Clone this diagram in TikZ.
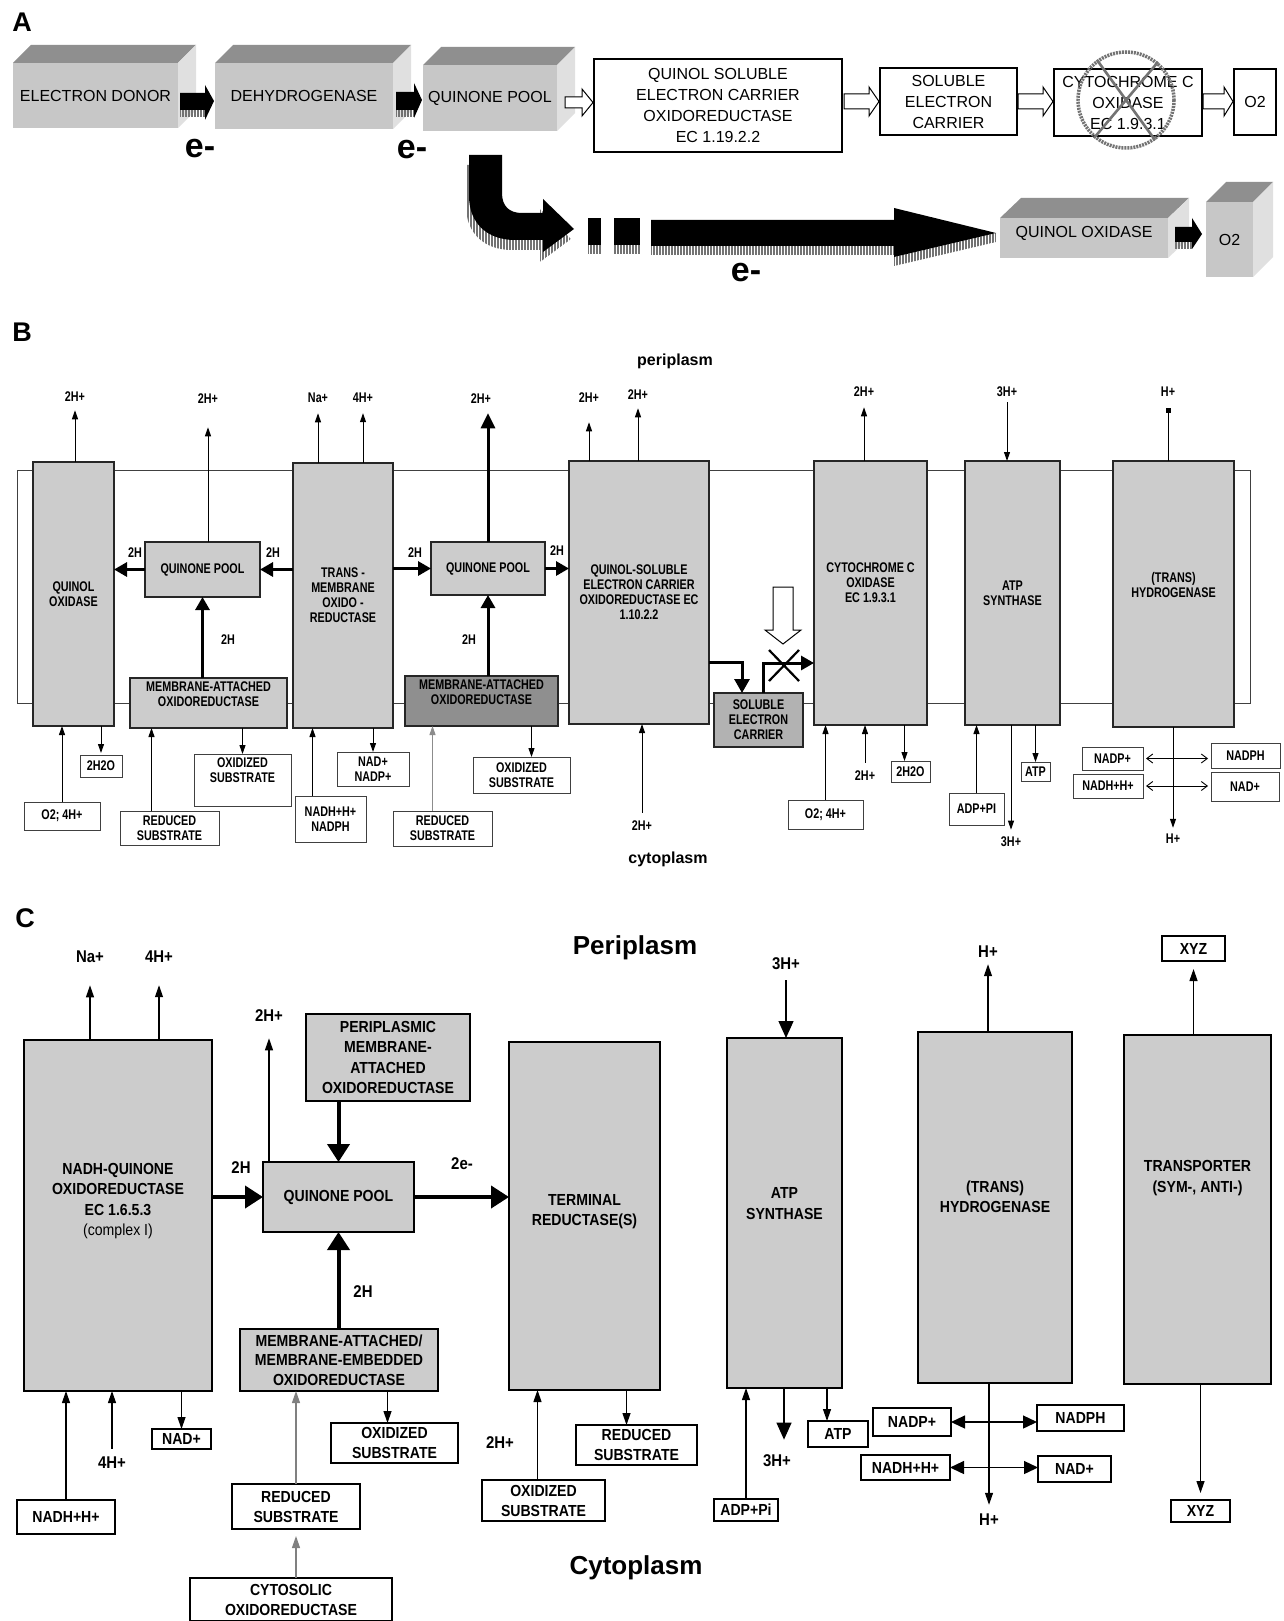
\documentclass[tikz,border=0pt]{standalone}
\usepackage{fontspec}
\setmainfont{Liberation Sans}
\newfontfamily\condfont{Liberation Sans}[FakeStretch=0.77]
\newfontfamily\semifont{Liberation Sans}[FakeStretch=0.88]
\usetikzlibrary{arrows.meta,patterns.meta}

\definecolor{cubefront}{gray}{0.78}
\definecolor{cubetop}{gray}{0.56}
\definecolor{cubeside}{gray}{0.88}
\definecolor{boxgray}{gray}{0.80}
\definecolor{attachdark}{gray}{0.56}
\definecolor{carriergray}{gray}{0.70}
\definecolor{hatchgray}{gray}{0.45}

\tikzset{every picture/.style={line width=0.75pt}}
\tikzset{
  cube/.style={fill=cubefront, inner sep=0pt, outer sep=0pt, font=\fontsize{16}{20}\selectfont},
  abox/.style={draw, line width=2.6pt, fill=white, inner sep=0pt, outer sep=0pt, align=center, font=\fontsize{16}{21}\selectfont},
  hollow/.style={draw, line width=1pt, fill=white},
  hatchfill/.style={pattern={Lines[angle=90,distance=3pt,line width=1.4pt]}, pattern color=hatchgray},
  bbox/.style={draw=black!85, line width=1.6pt, fill=boxgray, inner sep=0pt, outer sep=0pt, align=center, font=\condfont\bfseries\fontsize{14}{15}\selectfont},
  blabel/.style={draw=black!75, line width=0.9pt, fill=white, inner sep=0pt, outer sep=0pt, align=center, font=\condfont\bfseries\fontsize{14}{15}\selectfont},
  btext/.style={inner sep=0pt, font=\condfont\bfseries\fontsize{14}{15}\selectfont},
  bthin/.style={line width=1pt, -{Triangle[length=9pt,width=6pt]}},
  bthick/.style={line width=3pt, -{Triangle[length=13pt,width=14pt]}},
  bboth/.style={line width=0.9pt, {Straight Barb[length=6pt,width=9pt]}-{Straight Barb[length=6pt,width=9pt]}, shorten <=3pt, shorten >=3pt},
  cbox/.style={draw, line width=2.4pt, fill=boxgray, inner sep=0pt, outer sep=0pt, align=center, font=\semifont\bfseries\fontsize{16}{20.5}\selectfont},
  clabel/.style={draw, line width=1.2pt, fill=white, inner sep=0pt, outer sep=0pt, align=center, font=\semifont\bfseries\fontsize{16}{20}\selectfont},
  ctext/.style={inner sep=0pt, font=\semifont\bfseries\fontsize{17}{20}\selectfont},
  cthin/.style={line width=1.2pt, -{Triangle[length=12pt,width=8pt]}},
  cmid/.style={line width=1.3pt, -{Triangle[length=17pt,width=15pt]}},
  cthick/.style={line width=4pt, -{Triangle[length=18pt,width=22pt]}},
  cboth/.style={line width=1.3pt, {Triangle[length=14pt,width=13pt]}-{Triangle[length=14pt,width=13pt]}},
  panel/.style={inner sep=0pt, font=\bfseries\fontsize{27}{30}\selectfont},
  sidename/.style={inner sep=0pt, font=\bfseries\fontsize{26}{30}\selectfont},
  elabel/.style={inner sep=0pt, font=\bfseries\fontsize{34}{36}\selectfont},
}

\begin{document}
\begin{tikzpicture}[x=1pt,y=1pt,yscale=-1]
\useasboundingbox (0,0) rectangle (1283,1621);
\fill[white] (0,0) rectangle (1283,1621);

%%%%%%%%%%%%%%%% A %%%%%%%%%%%%%%%%
\node[panel] (lbla) at (22,22) {A};

%Shape: Cube
\node[cube, minimum width=165pt, minimum height=65pt] (aed) at (95.5,95.5) {ELECTRON DONOR};
\fill[cubetop] (aed.north west) -- ++(18,-18) -- ++(165,0) -- (aed.north east) -- cycle;
\fill[cubeside] (aed.north east) -- ++(18,-18) -- ++(0,65) -- (aed.south east) -- cycle;
%Shape: Cube
\node[cube, minimum width=178pt, minimum height=66pt] (adh) at (304,96) {DEHYDROGENASE};
\fill[cubetop] (adh.north west) -- ++(18,-18) -- ++(178,0) -- (adh.north east) -- cycle;
\fill[cubeside] (adh.north east) -- ++(18,-18) -- ++(0,66) -- (adh.south east) -- cycle;
%Shape: Cube
\node[cube, minimum width=134pt, minimum height=66pt] (aqp) at (490,98) {QUINONE POOL};
\fill[cubetop] (aqp.north west) -- ++(18,-18) -- ++(134,0) -- (aqp.north east) -- cycle;
\fill[cubeside] (aqp.north east) -- ++(18,-18) -- ++(0,66) -- (aqp.south east) -- cycle;

%Shape: Right Arrow
\fill[hatchfill] (180,110) rectangle (205,117);
\fill (180,93) -- (205,93) -- (205,85) -- (214,101) -- (205,120) -- (205,110) -- (180,110) -- cycle;
\fill[hatchfill] (396,110) rectangle (414,117);
\fill (396,92) -- (414,92) -- (414,83) -- (422,100) -- (414,118) -- (414,110) -- (396,110) -- cycle;

%Shape: Rectangle
\node[abox, minimum width=248pt, minimum height=93pt] (aqs) at (718,105.5) {QUINOL SOLUBLE\\ELECTRON CARRIER\\OXIDOREDUCTASE\\EC 1.19.2.2};
\node[abox, minimum width=137pt, minimum height=67pt] (asec) at (948.5,101.5) {SOLUBLE\\ELECTRON\\CARRIER};
\node[abox, minimum width=148pt, minimum height=67pt] (acco) at (1128,102.5) {CYTOCHROME C\\OXIDASE\\EC 1.9.3.1};
\node[abox, minimum width=42pt, minimum height=66pt] (ao2) at (1255,102) {O2};

%Shape: Right Arrow (hollow)
\draw[hollow] (565,97) -- (582,97) -- (582,89) -- (593,102.5) -- (582,116) -- (582,108) -- (565,108) -- cycle;
\draw[hollow] (844,94) -- (869,94) -- (869,87) -- (879,101.5) -- (869,116) -- (869,109) -- (844,109) -- cycle;
\draw[hollow] (1018,94) -- (1043,94) -- (1043,87) -- (1053,101.5) -- (1043,116) -- (1043,109) -- (1018,109) -- cycle;
\draw[hollow] (1203,94) -- (1224,94) -- (1224,87) -- (1233,101.5) -- (1224,116) -- (1224,109) -- (1203,109) -- cycle;

%crossed out
\draw[black!55, line width=3.5pt, dash pattern=on 2pt off 1pt] (1126,100) circle[radius=48pt];
\draw[black!55, line width=2.6pt] (1097,60) -- (1155,140) (1158,62) -- (1094,138);

\node[elabel] (ae1) at (200,149) {e-};
\node[elabel] (ae2) at (412,150) {e-};

%Shape: Curved Arrow
\begin{scope}[shift={(-3,10)}]
\fill[hatchfill] (469,155) -- (502,155) -- (502,193) .. controls (502,206) and (509,213) .. (522,213) -- (543,213) -- (543,199) -- (574,229) -- (543,252) -- (543,240) -- (515,240) .. controls (487,240) and (469,223) .. (469,196) -- cycle;
\end{scope}
\fill (469,155) -- (502,155) -- (502,193) .. controls (502,206) and (509,213) .. (522,213) -- (543,213) -- (543,199) -- (574,229) -- (543,252) -- (543,240) -- (515,240) .. controls (487,240) and (469,223) .. (469,196) -- cycle;

%Shape: Right Arrow (dashed start)
\fill[hatchfill] (588,245) rectangle (601,254);
\fill[hatchfill] (614,245) rectangle (640,254);
\fill (588,218) rectangle (601,245);
\fill (614,218) rectangle (640,245);
\fill[hatchfill] (651,246) -- (894,246) -- (894,266) -- (996,242) -- (996,233) -- (894,257) -- (894,255) -- (651,255) -- cycle;
\fill (651,220) -- (894,220) -- (894,208) -- (996,233) -- (894,257) -- (894,246) -- (651,246) -- cycle;
\node[elabel] (ae3) at (746,273) {e-};

%Shape: Cube
\node[cube, minimum width=168pt, minimum height=40pt, text depth=12pt] (aqo) at (1084,238) {QUINOL OXIDASE};
\fill[cubetop] (aqo.north west) -- ++(21,-20) -- ++(168,0) -- (aqo.north east) -- cycle;
\fill[cubeside] (aqo.north east) -- ++(21,-20) -- ++(0,40) -- (aqo.south east) -- cycle;
%Shape: Cube
\node[cube, minimum width=47pt, minimum height=75pt] (ao2c) at (1229.5,239.5) {O2};
\fill[cubetop] (ao2c.north west) -- ++(20,-20) -- ++(47,0) -- (ao2c.north east) -- cycle;
\fill[cubeside] (ao2c.north east) -- ++(20,-20) -- ++(0,75) -- (ao2c.south east) -- cycle;

\fill[hatchfill] (1175,242) rectangle (1192,249);
\fill (1175,227) -- (1192,227) -- (1192,218) -- (1202,234) -- (1192,249) -- (1192,242) -- (1175,242) -- cycle;

%%%%%%%%%%%%%%%% B %%%%%%%%%%%%%%%%
\node[panel] (lblb) at (22,332) {B};
\node[inner sep=0pt, font=\bfseries\fontsize{16}{18}\selectfont] (bper) at (675,361) {periplasm};
\node[inner sep=0pt, font=\bfseries\fontsize{16}{18}\selectfont] (bcyt) at (668,859) {cytoplasm};

%membrane
\draw[black!75, line width=1pt] (17,470) rectangle (1250,703);

%Shape: Rectangle
\node[bbox, minimum width=81pt, minimum height=264pt] (bqo) at (73.5,594) {QUINOL\\OXIDASE};
\node[bbox, minimum width=115pt, minimum height=55pt] (bqp1) at (202.5,569.5) {QUINONE POOL};
\node[bbox, minimum width=100pt, minimum height=265pt] (btm) at (343,595.5) {TRANS -\\MEMBRANE\\OXIDO -\\REDUCTASE};
\node[bbox, minimum width=157pt, minimum height=50pt, text depth=17pt] (bma1) at (208.5,703) {MEMBRANE-ATTACHED\\OXIDOREDUCTASE};
\node[bbox, minimum width=114pt, minimum height=53pt] (bqp2) at (488,568.5) {QUINONE POOL};
\node[bbox, fill=attachdark, minimum width=153pt, minimum height=50pt, text depth=17pt] (bma2) at (481.5,701) {MEMBRANE-ATTACHED\\OXIDOREDUCTASE};
\node[bbox, minimum width=140pt, minimum height=263pt] (bqs) at (639,592.5) {QUINOL-SOLUBLE\\ELECTRON CARRIER\\OXIDOREDUCTASE EC\\1.10.2.2};
\node[bbox, fill=carriergray, minimum width=89pt, minimum height=54pt] (bsec) at (758.5,720) {SOLUBLE\\ELECTRON\\CARRIER};
\node[bbox, minimum width=113pt, minimum height=264pt, text depth=20pt] (bcco) at (870.5,593) {CYTOCHROME C\\OXIDASE\\EC 1.9.3.1};
\node[bbox, minimum width=95pt, minimum height=264pt] (batp) at (1012.5,593) {ATP\\SYNTHASE};
\node[bbox, minimum width=121pt, minimum height=266pt, text depth=18pt] (bth) at (1173.5,594) {(TRANS)\\HYDROGENASE};

% Text Node
\node[btext] (bt1) at (75,397) {2H+};
\node[btext] (bt2) at (208,399) {2H+};
\node[btext] (bt3) at (318,398) {Na+};
\node[btext] (bt4) at (363,398) {4H+};
\node[btext] (bt5) at (481,399) {2H+};
\node[btext] (bt6) at (589,398) {2H+};
\node[btext] (bt7) at (638,395) {2H+};
\node[btext] (bt8) at (864,392) {2H+};
\node[btext] (bt9) at (1007,392) {3H+};
\node[btext] (bt10) at (1168,392) {H+};

%Straight Lines
\draw[bthin, shorten >=8pt] (bqo.north -| bt1.south) -- (bt1.south);
\draw[bthin, shorten >=23pt] (bqp1.north -| bt2.south) -- (bt2.south);
\draw[bthin, shorten >=10pt] (btm.north -| bt3.south) -- (bt3.south);
\draw[bthin, shorten >=10pt] (btm.north -| bt4.south) -- (bt4.south);
\draw[bthick, -{Triangle[length=15pt,width=14pt]}, shorten >=9pt] (bqp2.north) -- (bqp2.north |- bt5.south);
\draw[bthin, shorten >=19pt] (bqs.north -| bt6.south) -- (bt6.south);
\draw[bthin, shorten >=8pt] (bqs.north -| bt7.south) -- (bt7.south);
\draw[bthin, shorten >=10pt] (bcco.north -| bt8.south) -- (bt8.south);
\draw[bthin, shorten <=5pt] (bt9.south) -- (bt9.south |- batp.north);
\draw[line width=1pt, -{Square[length=5pt,width=5pt]}, shorten >=11pt] (bth.north -| bt10.south) -- (bt10.south);

\draw[bthick] (bqp1.east -| btm.west) -- (bqp1.east);
\draw[bthick] (bqp1.west) -- (bqp1.west -| bqo.east);
\draw[bthick] (bqp2.west -| btm.east) -- (bqp2.west);
\draw[bthick] (bqp2.east) -- (bqp2.east -| bqs.west);
\draw[bthick] (bqp1.south |- bma1.north) -- (bqp1.south);
\draw[bthick] (bqp2.south |- bma2.north) -- (bqp2.south);
\node[btext] (b2ha) at (273,553) {2H};
\node[btext] (b2hb) at (135,553) {2H};
\node[btext] (b2hc) at (415,553) {2H};
\node[btext] (b2hd) at (557,551) {2H};
\node[btext] (b2he) at (228,640) {2H};
\node[btext] (b2hf) at (469,640) {2H};

\coordinate (bk1) at (742,662);
\draw[bthick, -{Triangle[length=14pt,width=15pt]}] (bk1 -| bqs.east) -- (bk1) -- (bk1 |- bsec.north);
\coordinate (bk2) at (763,663);
\draw[bthick] (bk2 |- bsec.north) -- (bk2) -- (bk2 -| bcco.west);
\coordinate (bx) at (784,665);
\draw[line width=2.2pt] (bx) ++(-15,-15) -- ++(30,31) (bx) ++(-15,16) -- ++(30,-31);
\coordinate (bdn) at (783,644);
\draw[hollow] (bdn) -- ++(-18,-14) -- ++(8,0) -- ++(0,-43) -- ++(20,0) -- ++(0,43) -- ++(8,0) -- cycle;

%bottom side B
\node[blabel, minimum width=76pt, minimum height=28pt] (bo2a) at (62,816) {O2; 4H+};
\draw[bthin] (bo2a.north) -- (bo2a.north |- bqo.south);
\node[blabel, minimum width=42pt, minimum height=22pt] (bh2oa) at (101,766) {2H2O};
\draw[bthin, shorten >=2pt] (bh2oa.north |- bqo.south) -- (bh2oa.north);
\node[blabel, minimum width=99pt, minimum height=34pt] (brs1) at (169.5,828) {REDUCED\\SUBSTRATE};
\coordinate (brs1a) at ([xshift=-18pt]brs1.north);
\draw[bthin] (brs1a) -- (brs1a |- bma1.south);
\node[blabel, minimum width=97pt, minimum height=52pt, text depth=20pt] (bos1) at (242.5,780) {OXIDIZED\\SUBSTRATE};
\draw[bthin] (bos1.north |- bma1.south) -- (bos1.north);
\node[blabel, minimum width=71pt, minimum height=46pt] (bnadh) at (330.5,819) {NADH+H+\\NADPH};
\coordinate (bnadha) at ([xshift=-18pt]bnadh.north);
\draw[bthin] (bnadha) -- (bnadha |- btm.south);
\node[blabel, minimum width=72pt, minimum height=34pt] (bnad) at (373,769) {NAD+\\NADP+};
\draw[bthin] (bnad.north |- btm.south) -- (bnad.north);
\node[blabel, minimum width=99pt, minimum height=35pt] (brs2) at (442.5,828.5) {REDUCED\\SUBSTRATE};
\coordinate (brs2a) at ([xshift=-10pt]brs2.north);
\draw[bthin, black!45] (brs2a) -- (brs2a |- bma2.south);
\node[blabel, minimum width=97pt, minimum height=36pt] (bos2) at (521.5,775) {OXIDIZED\\SUBSTRATE};
\coordinate (bos2a) at ([xshift=10pt]bos2.north);
\draw[bthin] (bos2a |- bma2.south) -- (bos2a);
\node[btext] (bb1) at (642,826) {2H+};
\draw[bthin, shorten <=8pt] (bb1.north) -- (bb1.north |- bqs.south);
\node[blabel, minimum width=75pt, minimum height=29pt] (bo2b) at (825.5,814.5) {O2; 4H+};
\draw[bthin] (bo2b.north) -- (bo2b.north |- bcco.south);
\node[btext] (bb2) at (865,776) {2H+};
\draw[bthin, shorten <=8pt] (bb2.north) -- (bb2.north |- bcco.south);
\node[blabel, minimum width=39pt, minimum height=21pt] (bh2ob) at (910.5,771.5) {2H2O};
\coordinate (bh2oba) at ([xshift=-6pt]bh2ob.north);
\draw[bthin] (bh2oba |- bcco.south) -- (bh2oba);
\node[blabel, minimum width=55pt, minimum height=32pt] (badp) at (976.5,809) {ADP+PI};
\draw[bthin] (badp.north) -- (badp.north |- batp.south);
\node[btext] (bb3) at (1011,842) {3H+};
\draw[bthin, shorten >=7pt] (bb3.north |- batp.south) -- (bb3.north);
\node[blabel, minimum width=29pt, minimum height=19pt] (batpl) at (1035.5,771.5) {ATP};
\draw[bthin] (batpl.north |- batp.south) -- (batpl.north);
\node[btext] (bb4) at (1173,839) {H+};
\draw[bthin, shorten >=6pt] (bb4.north |- bth.south) -- (bb4.north);
\node[blabel, minimum width=61pt, minimum height=23pt] (bnadp) at (1112.5,758.5) {NADP+};
\node[blabel, minimum width=69pt, minimum height=25pt] (bnadph) at (1245.5,755.5) {NADPH};
\node[blabel, minimum width=70pt, minimum height=24pt] (bnadhh) at (1108,786) {NADH+H+};
\node[blabel, minimum width=68pt, minimum height=29pt] (bnadp2) at (1245,786.5) {NAD+};
\draw[bboth] (bnadp.east) -- (bnadp.east -| bnadph.west);
\draw[bboth] (bnadhh.east) -- (bnadhh.east -| bnadp2.west);

%%%%%%%%%%%%%%%% C %%%%%%%%%%%%%%%%
\node[panel] (lblc) at (25,918) {C};
\node[sidename] (cper) at (635,948) {Periplasm};
\node[sidename] (ccyto) at (636,1568) {Cytoplasm};

%Shape: Rectangle
\node[cbox, minimum width=188pt, minimum height=351pt, text depth=32pt] (cnq) at (118,1215.5) {NADH-QUINONE\\OXIDOREDUCTASE\\EC 1.6.5.3\\{\mdseries (complex I)}};
\node[cbox, minimum width=164pt, minimum height=87pt] (cpm) at (388,1057.5) {PERIPLASMIC\\MEMBRANE-\\ATTACHED\\OXIDOREDUCTASE};
\node[cbox, minimum width=151pt, minimum height=70pt] (cqp) at (338.5,1197) {QUINONE POOL};
\node[cbox, minimum width=198pt, minimum height=62pt, font=\semifont\bfseries\fontsize{16}{19.5}\selectfont] (cma) at (339,1360) {MEMBRANE-ATTACHED/\\MEMBRANE-EMBEDDED\\OXIDOREDUCTASE};
\node[cbox, minimum width=151pt, minimum height=348pt, text depth=12pt] (ctr) at (584.5,1216) {TERMINAL\\REDUCTASE(S)};
\node[cbox, minimum width=115pt, minimum height=350pt, text depth=19pt] (catp) at (784.5,1213) {ATP\\SYNTHASE};
\node[cbox, minimum width=154pt, minimum height=351pt, text depth=22pt] (cth) at (995,1207.5) {(TRANS)\\HYDROGENASE};
\node[cbox, minimum width=147pt, minimum height=349pt, text depth=66pt] (ctp) at (1197.5,1209.5) {TRANSPORTER\\(SYM-, ANTI-)};

% Text Node
\node[ctext] (cna) at (90,957) {Na+};
\node[ctext] (c4h) at (159,957) {4H+};
\node[ctext] (c2h) at (269,1016) {2H+};
\node[ctext] (c3ht) at (786,964) {3H+};
\node[ctext] (chpt) at (988,952) {H+};
\node[clabel, minimum width=63pt, minimum height=25pt] (cxyz1) at (1193.5,948.5) {XYZ};
\node[ctext] (c2hl) at (241,1168) {2H};
\node[ctext] (c2e) at (462,1164) {2e-};
\node[ctext] (c2hm) at (363,1292) {2H};

%Straight Lines
\draw[cthin, shorten >=22pt] (cnq.north -| cna.south) -- (cna.south);
\draw[cthin, shorten >=22pt] (cnq.north -| c4h.south) -- (c4h.south);
\draw[cthin, shorten >=16pt] (cqp.north -| c2h.south) -- (c2h.south);
\draw[cmid, shorten <=10pt] (c3ht.south) -- (c3ht.south |- catp.north);
\draw[cthin, shorten >=6pt] (cth.north -| chpt.south) -- (chpt.south);
\draw[cthin, shorten >=8pt] (ctp.north -| cxyz1.south) -- (cxyz1.south);

\draw[cthick] (cqp.west -| cnq.east) -- (cqp.west);
\draw[cthick] (cqp.east) -- (cqp.east -| ctr.west);
\draw[cthick] (cqp.north |- cpm.south) -- (cqp.north);
\draw[cthick] (cqp.south |- cma.north) -- (cqp.south);

%bottom side C
\node[clabel, minimum width=98pt, minimum height=34pt] (cnadhh) at (66,1517) {NADH+H+};
\draw[cthin] (cnadhh.north) -- (cnadhh.north |- cnq.south);
\node[ctext] (c4hb) at (112,1463) {4H+};
\draw[cthin, shorten <=8pt] (c4hb.north) -- (c4hb.north |- cnq.south);
\node[clabel, minimum width=59pt, minimum height=20pt] (cnad) at (181.5,1439) {NAD+};
\draw[cthin] (cnad.north |- cnq.south) -- (cnad.north);
\node[clabel, minimum width=128pt, minimum height=45pt] (crs) at (296,1506.5) {REDUCED\\SUBSTRATE};
\draw[cthin, black!50] (crs.north) -- (crs.north |- cma.south);
\node[clabel, minimum width=127pt, minimum height=40pt] (cos) at (394.5,1443) {OXIDIZED\\SUBSTRATE};
\coordinate (cosa) at ([xshift=-7pt]cos.north);
\draw[cthin] (cosa |- cma.south) -- (cosa);
\node[clabel, line width=2pt, minimum width=202pt, minimum height=43pt] (ccyt) at (291,1599.5) {CYTOSOLIC\\OXIDOREDUCTASE};
\draw[cthin, black!50, shorten >=7pt] (crs.south |- ccyt.north) -- (crs.south);
\node[ctext] (c2hb) at (500,1443) {2H+};
\node[clabel, minimum width=123pt, minimum height=41pt] (cos2) at (543.5,1500.5) {OXIDIZED\\SUBSTRATE};
\coordinate (cos2a) at ([xshift=-6pt]cos2.north);
\draw[cthin] (cos2a) -- (cos2a |- ctr.south);
\node[clabel, minimum width=121pt, minimum height=40pt] (crs2) at (636.5,1445) {REDUCED\\SUBSTRATE};
\coordinate (crs2a) at ([xshift=-10pt]crs2.north);
\draw[cthin] (crs2a |- ctr.south) -- (crs2a);
\node[clabel, minimum width=64pt, minimum height=22pt] (cadp) at (746,1510) {ADP+Pi};
\draw[cthin] (cadp.north) -- (cadp.north |- catp.south);
\node[ctext] (c3hb) at (777,1461) {3H+};
\coordinate (c3hba) at ([xshift=7pt]c3hb.north);
\draw[cmid, shorten >=15pt] (c3hba |- catp.south) -- (c3hba);
\node[clabel, minimum width=60pt, minimum height=26pt] (catpl) at (838,1434) {ATP};
\coordinate (catpla) at ([xshift=-11pt]catpl.north);
\draw[cthin] (catpla |- catp.south) -- (catpla);
\node[clabel, minimum width=78pt, minimum height=28pt] (cnadp) at (912,1422) {NADP+};
\node[clabel, minimum width=87pt, minimum height=26pt] (cnadph) at (1080.5,1418) {NADPH};
\node[clabel, minimum width=89pt, minimum height=25pt] (cnadhh2) at (905.5,1467.5) {NADH+H+};
\node[clabel, minimum width=73pt, minimum height=26pt] (cnadp2) at (1074.5,1469) {NAD+};
\draw[cboth] (cnadp.east) -- (cnadp.east -| cnadph.west);
\draw[cboth] (cnadhh2.east) -- (cnadhh2.east -| cnadp2.west);
\node[ctext] (chpb) at (989,1520) {H+};
\draw[cthin, shorten >=9pt] (cth.south -| chpb.north) -- (chpb.north);
\node[clabel, minimum width=59pt, minimum height=22pt] (cxyz2) at (1200.5,1511) {XYZ};
\draw[cthin, shorten >=7pt] (ctp.south -| cxyz2.north) -- (cxyz2.north);
\end{tikzpicture}
\end{document}
